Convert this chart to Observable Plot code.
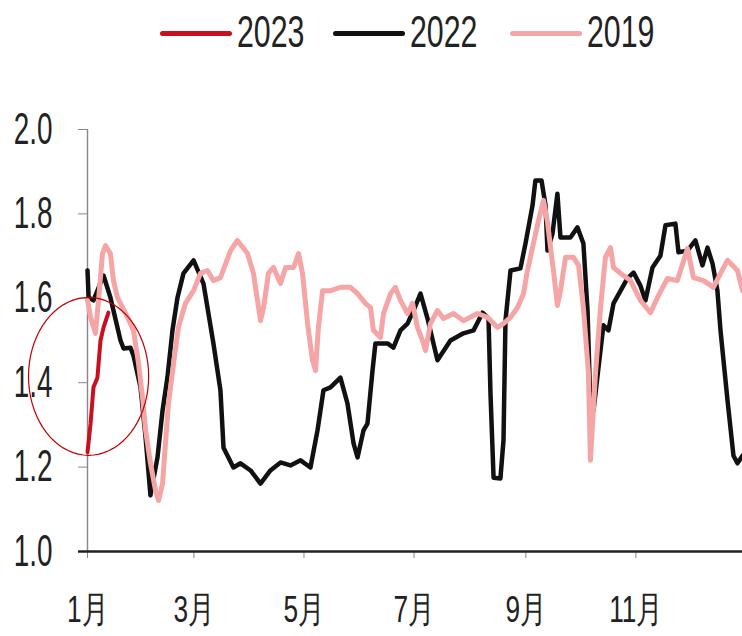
<!DOCTYPE html>
<html><head><meta charset="utf-8">
<script src="https://cdn.jsdelivr.net/npm/d3@7"></script>
<script src="https://cdn.jsdelivr.net/npm/@observablehq/plot@0.6"></script>
<style>
body{margin:0;background:#fff;font-family:"Liberation Sans",Arial,sans-serif;}
#legend{position:relative;height:70px;width:742px;}
.swatch{position:absolute;top:31px;height:5px;width:72px;border-radius:3px;}
.lab{position:absolute;top:13px;font-size:37px;line-height:40px;color:#222;transform:scale(0.82,1.18);transform-origin:left center;}
#chart svg{display:block;}
</style></head>
<body>
<div id="legend"></div>
<div id="chart"></div>
<script>
// ---- data ----
const seriesNames = ["2023", "2022", "2019"];
const seriesColors = ["#C8101E", "#111111", "#F5A5A5"];
const monthTicks = [0, 59, 120, 181, 243, 304];          // day of year
const monthLabels = ["1月", "3月", "5月", "7月", "9月", "11月"];
const yTicks = [1.0, 1.2, 1.4, 1.6, 1.8, 2.0];

const days2023   = [0, 1.7, 3.3, 5.5, 7.2, 8.9, 11.6];
const values2023 = [1.235, 1.303, 1.389, 1.412, 1.500, 1.531, 1.566];

const days2022 = [0,0.6,3.3,8.9,12.7,18.3,20.0,23.8,25.5,29.4,32.2,34.9,38.8,41.6,44.3,47.1,49.9,53.2,58.8,64.3,69.8,73.7,75.4,80.9,84.8,90.4,95.9,101.4,107.0,112.5,118.1,123.6,127.5,130.8,134.7,140.2,144.1,147.5,149.7,153.0,155.2,158.0,159.6,166.3,169.6,173.5,177.4,180.7,184.6,188.5,194.0,201.2,208.4,214.0,219.0,222.3,223.4,225.1,228.9,230.6,231.7,234.5,240.0,242.8,246.7,248.3,251.7,253.9,255.0,257.8,260.5,262.2,267.7,271.6,274.9,277.2,278.8,280.5,286.0,288.8,291.6,299.3,302.7,306.5,309.3,313.2,317.6,320.4,325.9,327.6,332.6,337.0,340.9,343.7,346.5,349.2,350.9,354.8,358.1,360.3,363.1];
const values2022 = [1.666,1.602,1.595,1.654,1.602,1.500,1.481,1.483,1.464,1.389,1.270,1.133,1.223,1.334,1.412,1.524,1.602,1.659,1.690,1.635,1.493,1.382,1.246,1.199,1.209,1.192,1.161,1.192,1.211,1.204,1.216,1.199,1.287,1.382,1.389,1.412,1.351,1.256,1.223,1.287,1.303,1.429,1.493,1.493,1.483,1.524,1.540,1.571,1.611,1.552,1.453,1.500,1.517,1.524,1.566,1.552,1.374,1.175,1.173,1.263,1.547,1.666,1.671,1.730,1.820,1.879,1.879,1.820,1.713,1.754,1.848,1.744,1.744,1.768,1.730,1.571,1.341,1.334,1.536,1.524,1.588,1.647,1.661,1.630,1.595,1.673,1.701,1.773,1.777,1.709,1.713,1.737,1.678,1.720,1.682,1.618,1.524,1.358,1.227,1.209,1.227];

const days2019 = [0,1.7,4.4,6.1,8.3,10.0,12.7,14.4,16.6,22.2,25.5,28.3,30.5,32.2,34.9,37.7,39.4,41.6,43.2,44.9,47.7,50.4,54.3,58.8,62.6,66.5,69.8,73.7,79.3,83.1,88.7,92.0,95.9,97.6,100.3,103.1,107.0,109.8,114.2,117.0,119.2,122.0,124.7,126.4,128.0,130.3,134.7,140.2,145.8,149.7,154.1,156.9,158.5,162.4,164.1,168.0,170.7,173.5,177.4,180.2,182.9,185.7,187.4,190.1,194.0,197.3,202.9,208.4,216.2,221.7,227.3,230.6,234.5,238.4,241.7,243.9,247.2,250.0,252.8,255.0,256.7,258.3,260.5,262.2,265.0,269.4,272.2,274.9,277.7,278.8,281.6,284.4,287.1,289.9,291.6,295.5,301.0,306.5,312.1,316.0,321.5,327.0,332.6,335.9,341.5,347.0,350.9,354.8,360.3,363.1];
const values2019 = [1.595,1.555,1.517,1.595,1.706,1.725,1.706,1.642,1.602,1.555,1.524,1.445,1.365,1.287,1.209,1.145,1.121,1.161,1.256,1.351,1.445,1.531,1.588,1.618,1.659,1.666,1.642,1.649,1.713,1.737,1.706,1.659,1.547,1.578,1.659,1.673,1.635,1.673,1.673,1.706,1.659,1.540,1.453,1.429,1.531,1.618,1.618,1.626,1.626,1.611,1.588,1.578,1.524,1.507,1.564,1.611,1.626,1.595,1.564,1.588,1.531,1.500,1.476,1.540,1.571,1.552,1.564,1.547,1.564,1.555,1.531,1.540,1.555,1.578,1.611,1.666,1.730,1.784,1.832,1.780,1.720,1.666,1.583,1.618,1.697,1.697,1.678,1.578,1.422,1.216,1.422,1.578,1.697,1.720,1.673,1.659,1.642,1.595,1.566,1.602,1.647,1.642,1.718,1.649,1.642,1.626,1.659,1.690,1.666,1.618];

// annotation ellipse (centre day, centre value, radius in days, radius in value)
const ellipseCenter = [0.6, 1.415];
const ellipseRadii = [33.3, 0.187];

// ---- build tables ----
const toRows = (days, vals) => days.map((d, i) => ({day: d, value: vals[i]}));
const rows2023 = toRows(days2023, values2023);
const rows2022 = toRows(days2022, values2022);
const rows2019 = toRows(days2019, values2019);
const ellipse = d3.range(72).map(k => {
  const t = k / 72 * 2 * Math.PI;
  return {day: ellipseCenter[0] + ellipseRadii[0] * Math.cos(t), value: ellipseCenter[1] + ellipseRadii[1] * Math.sin(t)};
});

// ---- legend ----
const legend = document.getElementById("legend");
const legendX = [160, 333, 510];
seriesNames.forEach((name, i) => {
  const sw = document.createElement("div");
  sw.className = "swatch";
  sw.style.left = legendX[i] + "px";
  sw.style.background = seriesColors[i];
  legend.appendChild(sw);
  const lb = document.createElement("div");
  lb.className = "lab";
  lb.style.left = (legendX[i] + 77) + "px";
  lb.textContent = name;
  legend.appendChild(lb);
});

// ---- chart ----
const chart = Plot.plot({
  width: 742,
  height: 566,
  marginLeft: 87,
  marginRight: 0,
  marginTop: 59,
  marginBottom: 85,
  style: {fontFamily: '"Liberation Sans",Arial,sans-serif', background: "#fff", color: "#222"},
  x: {domain: [0, 363.1], label: null},
  y: {domain: [1, 2], label: null},
  marks: [
    Plot.ruleX([0], {y1: 1, y2: 2, stroke: "#888", strokeWidth: 1.4}),
    Plot.axisY(yTicks, {label: null, tickSize: 9, tickPadding: 26, tickFormat: d => d.toFixed(1), fontSize: 34, stroke: "#888", fill: "#222"}),
    Plot.axisX(monthTicks, {label: null, tickSize: 7, tickPadding: 37, tickFormat: d => monthLabels[monthTicks.indexOf(d)], fontSize: 32, stroke: "#888", fill: "#222"}),
    Plot.ruleY([1], {x1: -5, x2: 363.1, stroke: "#222", strokeWidth: 2.5}),
    Plot.line(rows2022, {x: "day", y: "value", stroke: seriesColors[1], strokeWidth: 4.5, strokeLinejoin: "round"}),
    Plot.line(rows2019, {x: "day", y: "value", stroke: seriesColors[2], strokeWidth: 5, strokeLinejoin: "round"}),
    Plot.line(rows2023, {x: "day", y: "value", stroke: seriesColors[0], strokeWidth: 4, strokeLinejoin: "round"}),
    Plot.line(ellipse, {x: "day", y: "value", stroke: "#C00000", strokeWidth: 1.2, curve: "linear-closed"})
  ]
});
// condensed, tall type as in the source: squeeze horizontally, stretch vertically
chart.querySelectorAll('g[aria-label="y-axis tick label"] text').forEach(t => {
  t.setAttribute("transform", (t.getAttribute("transform") || "") + " scale(0.82,1.3)");
});
chart.querySelectorAll('g[aria-label="x-axis tick label"] text').forEach(t => {
  t.setAttribute("transform", (t.getAttribute("transform") || "") + " scale(0.82,1.15)");
});
document.getElementById("chart").appendChild(chart);
</script>
</body></html>
